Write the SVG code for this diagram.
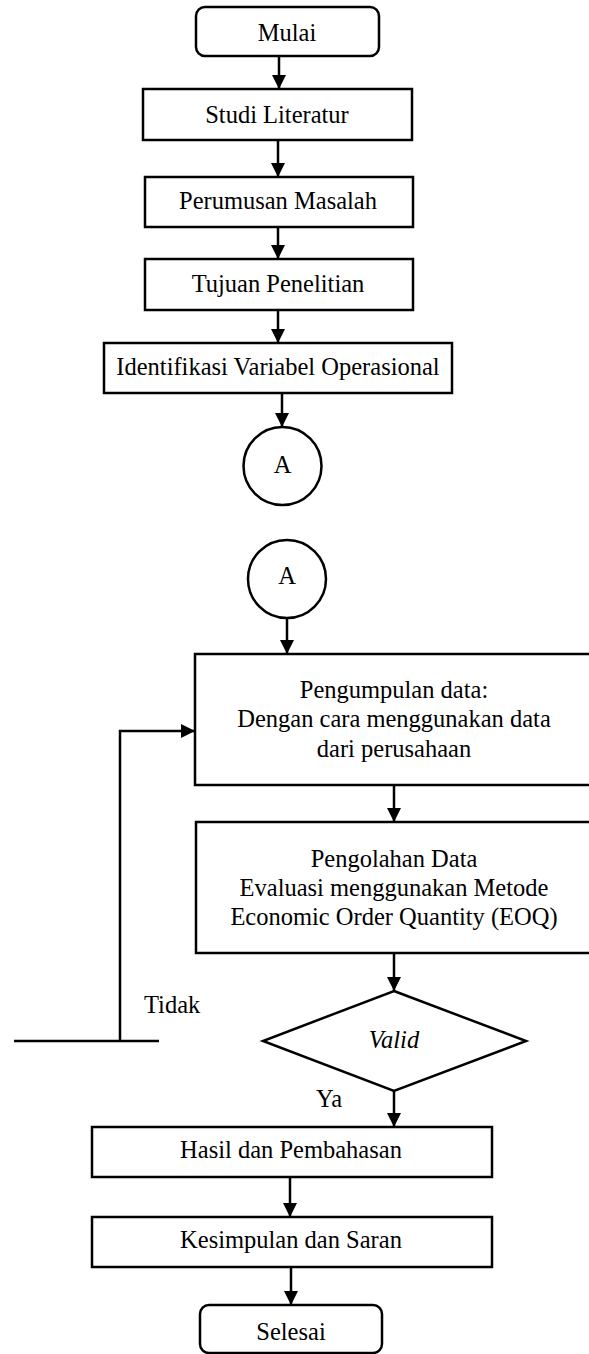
<svg xmlns="http://www.w3.org/2000/svg" width="589" height="1354" viewBox="0 0 589 1354">
<style>
.box{fill:#fff;stroke:#000;stroke-width:2.5}
.ln{fill:none;stroke:#000;stroke-width:2.5}
.t{font-family:"Liberation Serif","Times New Roman",serif;font-size:24.5px;fill:#000;text-anchor:middle}
.l{font-family:"Liberation Serif","Times New Roman",serif;font-size:24.5px;fill:#000}
</style>
<defs>
<marker id="ah" markerUnits="userSpaceOnUse" markerWidth="14" markerHeight="14" viewBox="0 0 14 14" refX="14" refY="7" orient="auto">
<path d="M0,0 L14,7 L0,14 Z" fill="#000"/>
</marker>
</defs>
<rect width="589" height="1354" fill="#fff"/>
<g id="connectors">
<line class="ln" x1="279" y1="56" x2="279" y2="89" marker-end="url(#ah)"/>
<line class="ln" x1="278" y1="140" x2="278" y2="177" marker-end="url(#ah)"/>
<line class="ln" x1="278" y1="227" x2="278" y2="259" marker-end="url(#ah)"/>
<line class="ln" x1="278" y1="310" x2="278" y2="343" marker-end="url(#ah)"/>
<line class="ln" x1="282" y1="393" x2="282" y2="427" marker-end="url(#ah)"/>
<line class="ln" x1="287" y1="618" x2="287" y2="654" marker-end="url(#ah)"/>
<line class="ln" x1="394" y1="785" x2="394" y2="822" marker-end="url(#ah)"/>
<line class="ln" x1="394" y1="953" x2="394" y2="991" marker-end="url(#ah)"/>
<line class="ln" x1="394" y1="1091" x2="394" y2="1127" marker-end="url(#ah)"/>
<line class="ln" x1="290" y1="1177" x2="290" y2="1217" marker-end="url(#ah)"/>
<line class="ln" x1="291" y1="1267" x2="291" y2="1305" marker-end="url(#ah)"/>
<polyline class="ln" points="120,1041 120,731 195,731" marker-end="url(#ah)"/>
<line class="ln" x1="14" y1="1041" x2="159" y2="1041"/>
<text class="l" x="144" y="1013">Tidak</text>
<text class="l" x="316" y="1107">Ya</text>
</g>
<g id="mulai">
<rect class="box" x="196" y="7" width="183" height="49" rx="9"/>
<text class="t" x="287" y="41">Mulai</text>
</g>
<g id="studi">
<rect class="box" x="143" y="89" width="269" height="51"/>
<text class="t" x="277" y="123">Studi Literatur</text>
</g>
<g id="perumusan">
<rect class="box" x="145" y="177" width="268" height="50"/>
<text class="t" x="278" y="209">Perumusan Masalah</text>
</g>
<g id="tujuan">
<rect class="box" x="145" y="259" width="268" height="51"/>
<text class="t" x="278" y="292">Tujuan Penelitian</text>
</g>
<g id="identifikasi">
<rect class="box" x="104" y="343" width="348" height="50"/>
<text class="t" x="278" y="375">Identifikasi Variabel Operasional</text>
</g>
<g id="connectorA1">
<circle class="box" cx="282.5" cy="466" r="39"/>
<text class="t" x="282.5" y="473">A</text>
</g>
<g id="connectorA2">
<circle class="box" cx="287" cy="579" r="39"/>
<text class="t" x="287" y="584">A</text>
</g>
<g id="pengumpulan">
<rect class="box" x="195" y="654" width="398" height="131"/>
<text class="t" x="394" y="698">Pengumpulan data:</text>
<text class="t" x="394" y="727">Dengan cara menggunakan data</text>
<text class="t" x="394" y="757">dari perusahaan</text>
</g>
<g id="pengolahan">
<rect class="box" x="196" y="822" width="397" height="131"/>
<text class="t" x="394" y="867">Pengolahan Data</text>
<text class="t" x="394" y="896">Evaluasi menggunakan Metode</text>
<text class="t" x="394" y="925">Economic Order Quantity (EOQ)</text>
</g>
<g id="valid">
<polygon class="box" points="394,991 526,1041 394,1091 263,1041"/>
<text class="t" x="394" y="1048" font-style="italic">Valid</text>
</g>
<g id="hasil">
<rect class="box" x="92" y="1127" width="400" height="50"/>
<text class="t" x="291" y="1158">Hasil dan Pembahasan</text>
</g>
<g id="kesimpulan">
<rect class="box" x="92" y="1217" width="400" height="50"/>
<text class="t" x="291" y="1248">Kesimpulan dan Saran</text>
</g>
<g id="selesai">
<rect class="box" x="200" y="1305" width="182" height="48" rx="9"/>
<text class="t" x="291" y="1340">Selesai</text>
</g>
</svg>
